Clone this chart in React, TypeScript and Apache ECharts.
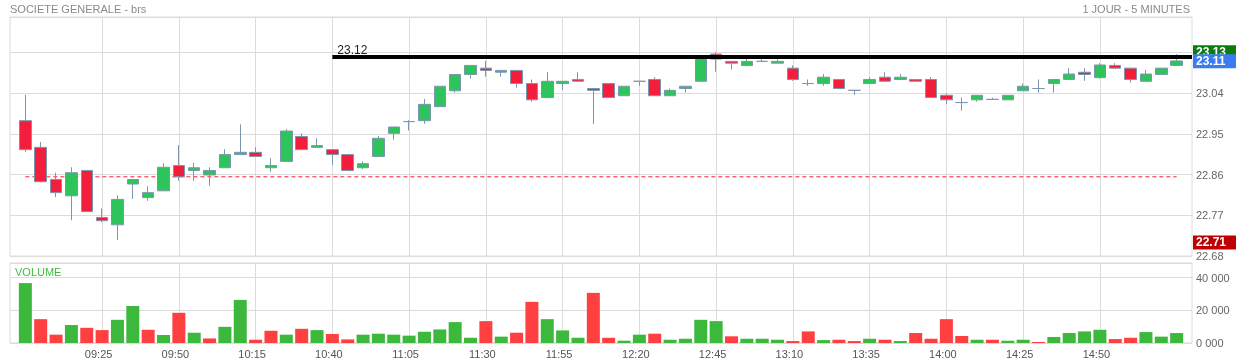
import React, { useEffect, useRef } from 'react';
import * as echarts from 'echarts';

const times = [
  '09:00', '09:05', '09:10', '09:15', '09:20', '09:25', '09:30', '09:35', '09:40', '09:45', '09:50', '09:55',
  '10:00', '10:05', '10:10', '10:15', '10:20', '10:25', '10:30', '10:35', '10:40', '10:45', '10:50', '10:55',
  '11:00', '11:05', '11:10', '11:15', '11:20', '11:25', '11:30', '11:35', '11:40', '11:45', '11:50', '11:55',
  '12:00', '12:05', '12:10', '12:15', '12:20', '12:25', '12:30', '12:35', '12:40', '12:45', '12:50', '12:55',
  '13:00', '13:05', '13:10', '13:15', '13:20', '13:25', '13:30', '13:35', '13:40', '13:45', '13:50', '13:55',
  '14:00', '14:05', '14:10', '14:15', '14:20', '14:25', '14:30', '14:35', '14:40', '14:45', '14:50', '14:55',
  '15:00', '15:05', '15:10', '15:15',
];
const padBefore = '08:55';
const padAfter = '15:20';
const labelTimes = ['09:25', '09:50', '10:15', '10:40', '11:05', '11:30', '11:55', '12:20', '12:45', '13:10', '13:35', '14:00', '14:25', '14:50'];

const opens = [
  22.979, 22.920, 22.849, 22.813, 22.869, 22.765, 22.749, 22.839, 22.809, 22.824, 22.880, 22.869,
  22.859, 22.875, 22.904, 22.909, 22.875, 22.889, 22.944, 22.920, 22.915, 22.904, 22.875, 22.900,
  22.951, 22.977, 22.979, 23.010, 23.045, 23.081, 23.095, 23.086, 23.090, 23.061, 23.030, 23.061,
  23.070, 23.050, 23.061, 23.034, 23.066, 23.070, 23.034, 23.050, 23.066, 23.126, 23.110, 23.101,
  23.110, 23.106, 23.095, 23.061, 23.061, 23.070, 23.046, 23.061, 23.075, 23.070, 23.070, 23.070,
  23.035, 23.019, 23.025, 23.026, 23.025, 23.045, 23.050, 23.061, 23.070, 23.086, 23.074, 23.101,
  23.095, 23.066, 23.081, 23.101,
];
const closes = [
  22.915, 22.844, 22.820, 22.864, 22.778, 22.758, 22.805, 22.849, 22.820, 22.876, 22.855, 22.875,
  22.869, 22.904, 22.909, 22.900, 22.880, 22.956, 22.915, 22.924, 22.904, 22.869, 22.884, 22.940,
  22.965, 22.977, 23.015, 23.055, 23.081, 23.101, 23.090, 23.090, 23.061, 23.025, 23.066, 23.066,
  23.066, 23.046, 23.030, 23.055, 23.066, 23.034, 23.046, 23.055, 23.120, 23.115, 23.106, 23.110,
  23.110, 23.110, 23.070, 23.061, 23.075, 23.050, 23.046, 23.070, 23.066, 23.075, 23.066, 23.030,
  23.025, 23.019, 23.035, 23.026, 23.035, 23.055, 23.050, 23.070, 23.082, 23.081, 23.102, 23.095,
  23.070, 23.082, 23.095, 23.111,
];
const lows = [
  22.910, 22.843, 22.810, 22.759, 22.778, 22.755, 22.715, 22.806, 22.802, 22.824, 22.846, 22.846,
  22.835, 22.875, 22.904, 22.900, 22.866, 22.889, 22.915, 22.920, 22.881, 22.869, 22.872, 22.900,
  22.937, 22.957, 22.972, 23.010, 23.041, 23.072, 23.076, 23.076, 23.052, 23.021, 23.030, 23.047,
  23.066, 22.972, 23.030, 23.034, 23.056, 23.034, 23.034, 23.041, 23.066, 23.087, 23.092, 23.099,
  23.109, 23.106, 23.067, 23.056, 23.056, 23.050, 23.036, 23.061, 23.066, 23.070, 23.066, 23.030,
  23.016, 23.001, 23.021, 23.025, 23.025, 23.045, 23.041, 23.041, 23.070, 23.067, 23.072, 23.095,
  23.063, 23.066, 23.081, 23.101,
];
const highs = [
  23.036, 22.932, 22.864, 22.876, 22.869, 22.785, 22.814, 22.849, 22.834, 22.885, 22.925, 22.886,
  22.876, 22.916, 22.971, 22.920, 22.896, 22.960, 22.951, 22.940, 22.915, 22.904, 22.889, 22.945,
  22.965, 22.980, 23.027, 23.055, 23.081, 23.101, 23.111, 23.090, 23.090, 23.070, 23.086, 23.066,
  23.086, 23.050, 23.061, 23.055, 23.066, 23.075, 23.050, 23.055, 23.120, 23.130, 23.110, 23.115,
  23.115, 23.115, 23.101, 23.070, 23.082, 23.070, 23.046, 23.075, 23.086, 23.082, 23.070, 23.075,
  23.039, 23.030, 23.035, 23.030, 23.035, 23.061, 23.070, 23.070, 23.095, 23.095, 23.106, 23.106,
  23.095, 23.091, 23.095, 23.126,
];
const volumes = [
  36700, 14600, 5100, 11000, 9300, 7900, 14200, 22700, 8100, 4900, 18500, 6300,
  2800, 9900, 26400, 2000, 7500, 5100, 8700, 7900, 5500, 2200, 5100, 5700,
  5100, 4500, 6900, 8300, 12800, 3200, 13400, 3900, 6300, 25200, 14600, 7700,
  3200, 30700, 3200, 1400, 5100, 5700, 2000, 2600, 14200, 13400, 4100, 2600,
  2600, 2000, 1200, 7100, 1800, 2000, 1200, 2600, 2000, 1200, 6100, 2600,
  14600, 4300, 2000, 2000, 1400, 2000, 600, 3700, 6100, 7100, 8100, 2400,
  3200, 6700, 3900, 6100,
];
const volumeDir = [
  'u', 'd', 'd', 'u', 'd', 'd', 'u', 'u', 'd', 'u', 'd', 'u',
  'd', 'u', 'u', 'd', 'd', 'u', 'd', 'u', 'd', 'd', 'u', 'u',
  'u', 'u', 'u', 'u', 'u', 'u', 'd', 'u', 'd', 'd', 'u', 'u',
  'u', 'd', 'd', 'u', 'u', 'd', 'u', 'u', 'u', 'u', 'd', 'u',
  'u', 'u', 'd', 'd', 'u', 'd', 'd', 'u', 'd', 'u', 'd', 'd',
  'd', 'd', 'u', 'd', 'u', 'u', 'd', 'u', 'u', 'u', 'u', 'd',
  'd', 'u', 'u', 'u',
];

const refLevel = 23.12;
const refStart = '10:40';
const prevClose = 22.855;
const dayHigh = 23.13;
const lastPrice = 23.11;
const dayLow = 22.71;

const priceTicks = { min: 22.68, max: 23.208, interval: 0.09 };
const volumeTicks = { min: 0, max: 49000, interval: 20000 };

const FONT = 'Liberation Sans, Arial, sans-serif';
const UP = '#2dc55b';
const DOWN = '#f21e3c';
const WICK = '#7d96b0';
const VOL_UP = '#3cb93c';
const VOL_DOWN = '#ff4040';
const GRIDC = '#dcdcdc';
const DASH_RED = '#ff1f3a';

export default function App() {
  const ref = useRef<HTMLDivElement>(null);
  useEffect(() => {
    if (!ref.current) return;
    const chart = echarts.init(ref.current, undefined, { renderer: 'svg' });
    const cats = [padBefore, ...times, padAfter];
    const labelSet = new Set(labelTimes);
    const showIdx = (i: number) => labelSet.has(cats[i]);
    const candleData: any[] = ['-', ...times.map((_, i) => [opens[i], closes[i], lows[i], highs[i]]), '-'];
    const volData: any[] = [
      '-',
      ...volumes.map((v, i) => ({ value: v, itemStyle: { color: volumeDir[i] === 'u' ? VOL_UP : VOL_DOWN } })),
      '-',
    ];
    // previous close reference line: value at first and last session bars only
    const prevCloseData: any[] = cats.map((c) => (c === times[0] || c === times[times.length - 1] ? prevClose : '-'));
    const tag = (value: number, bg: string) => ({
      yAxis: value,
      lineStyle: { color: 'rgba(0,0,0,0)', width: 1, type: 'solid' },
      label: {
        show: true,
        position: 'end',
        distance: 1,
        formatter: value.toFixed(2),
        color: '#fff',
        fontWeight: 'bold',
        fontSize: 12,
        fontFamily: FONT,
        backgroundColor: bg,
        padding: [1, 14, 0, 3],
        lineHeight: 13,
      },
    });
    const option: any = {
      animation: false,
      textStyle: { fontFamily: FONT },
      title: [
        { text: 'SOCIETE GENERALE - brs', left: 10, top: 3, padding: 0, textStyle: { fontSize: 11, color: '#8a8a8a', fontWeight: 'normal', fontFamily: FONT } },
        { text: '1 JOUR - 5 MINUTES', right: 46, top: 3, padding: 0, textStyle: { fontSize: 11, color: '#8a8a8a', fontWeight: 'normal', fontFamily: FONT } },
      ],
      graphic: [
        { type: 'text', left: 15, top: 266, style: { text: 'VOLUME', fill: '#3fbf3f', fontSize: 11, fontFamily: FONT } },
      ],
      grid: [
        { left: 10, right: 44, top: 17, height: 239, show: true, borderColor: GRIDC, borderWidth: 1 },
        { left: 10, right: 44, top: 263, height: 80, show: true, borderColor: GRIDC, borderWidth: 1 },
      ],
      xAxis: [
        {
          type: 'category', gridIndex: 0, data: cats, boundaryGap: false,
          axisLine: { show: false }, axisTick: { show: false }, axisLabel: { show: false },
          splitLine: { show: true, interval: (i: number) => showIdx(i), lineStyle: { color: GRIDC } },
        },
        {
          type: 'category', gridIndex: 1, data: cats, boundaryGap: false,
          axisLine: { show: false }, axisTick: { show: false },
          axisLabel: { interval: (i: number) => showIdx(i), color: '#555', fontSize: 11, margin: 5, padding: [0, 7, 0, 0], fontFamily: FONT },
          splitLine: { show: true, interval: (i: number) => showIdx(i), lineStyle: { color: GRIDC } },
        },
      ],
      yAxis: [
        {
          type: 'value', gridIndex: 0, position: 'right', scale: true,
          min: priceTicks.min, max: priceTicks.max, interval: priceTicks.interval,
          axisLine: { show: false }, axisTick: { show: false },
          axisLabel: { color: '#666', fontSize: 11, margin: 4, showMaxLabel: false, padding: [0, 0, 4, 0], formatter: (v: number) => v.toFixed(2), fontFamily: FONT },
          splitLine: { show: true, lineStyle: { color: GRIDC } },
        },
        {
          type: 'value', gridIndex: 1, position: 'right',
          min: volumeTicks.min, max: volumeTicks.max, interval: volumeTicks.interval,
          axisLine: { show: false }, axisTick: { show: false },
          axisLabel: {
            color: '#666', fontSize: 11, margin: 4, showMaxLabel: false, padding: [0, 0, 5, 0], fontFamily: FONT,
            formatter: (v: number) => (v === 0 ? '0 000' : `${Math.round(v / 1000)} 000`),
          },
          splitLine: { show: true, lineStyle: { color: GRIDC } },
        },
      ],
      series: [
        {
          type: 'line', xAxisIndex: 0, yAxisIndex: 0, data: prevCloseData, connectNulls: true,
          showSymbol: false, symbol: 'none', silent: true, z: 3,
          lineStyle: { color: DASH_RED, width: 1, type: [4, 3], opacity: 1 },
          itemStyle: { color: DASH_RED },
        },
        {
          type: 'candlestick', xAxisIndex: 0, yAxisIndex: 0, data: candleData, barWidth: 12, z: 4,
          itemStyle: { color: UP, color0: DOWN, borderColor: WICK, borderColor0: WICK, borderColorDoji: WICK, borderWidth: 1 },
          markLine: {
            silent: true, symbol: ['none', 'none'], animation: false,
            lineStyle: { color: '#000', width: 4, type: 'solid' },
            data: [
              [
                { coord: [refStart, refLevel],
                  label: { show: true, position: 'insideStartTop', formatter: refLevel.toFixed(2), color: '#222', fontSize: 12, distance: [5, 1], fontFamily: FONT } },
                { coord: [padAfter, refLevel] },
              ],
              tag(dayHigh, '#0a7d0a'),
              tag(lastPrice, '#3a7bf2'),
              tag(dayLow, '#c00000'),
            ],
          },
        },
        {
          type: 'bar', xAxisIndex: 1, yAxisIndex: 1, data: volData, barWidth: 13,
        },
      ],
    };
    chart.setOption(option);
    return () => chart.dispose();
  }, []);
  return <div ref={ref} style={{ position: 'fixed', left: 0, top: 0, width: 1236, height: 364 }} />;
}
